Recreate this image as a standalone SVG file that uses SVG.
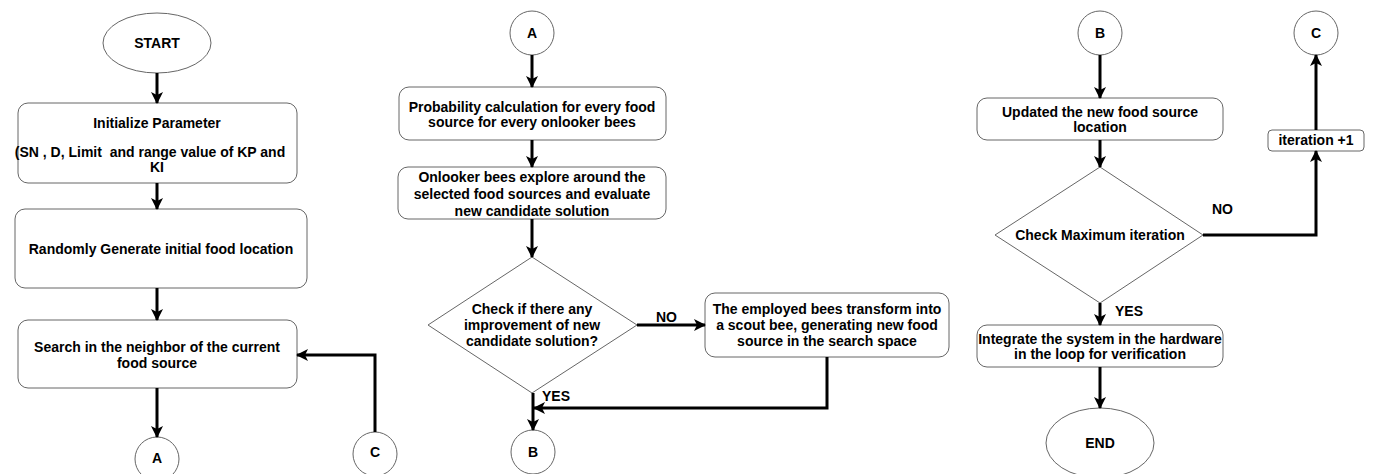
<svg xmlns="http://www.w3.org/2000/svg" width="1373" height="474" viewBox="0 0 1373 474">
<style>
.n{fill:#fff;stroke:#666;stroke-width:1}
.t{font-family:"Liberation Sans",Arial,sans-serif;font-weight:bold;font-size:14px;fill:#000;text-anchor:middle;dominant-baseline:central;white-space:pre}
.c{fill:none;stroke:#000;stroke-width:3}
.l{font-family:"Liberation Sans",Arial,sans-serif;font-weight:bold;font-size:14px;fill:#000;dominant-baseline:central}
</style>
<defs>
<marker id="ah" markerUnits="userSpaceOnUse" markerWidth="12" markerHeight="12" viewBox="0 0 12 12" refX="11" refY="6" orient="auto">
<path d="M0,0 L12,6 L0,12 L3,6 Z" fill="#000"/>
</marker>
</defs>
<rect width="1373" height="474" fill="#fff"/>

<g id="start"><ellipse class="n" cx="157" cy="43" rx="54" ry="30"/><text class="t" x="157" y="43">START</text></g>
<g id="init"><rect class="n" x="18" y="103" width="279" height="80" rx="10"/>
<text class="t" x="157" y="123">Initialize Parameter</text>
<text class="t" x="150" y="152">(SN , D, Limit  and range value of KP and</text>
<text class="t" x="157" y="167">KI</text></g>
<g id="random"><rect class="n" x="15" y="209" width="292" height="79" rx="10"/><text class="t" x="161" y="249">Randomly Generate initial food location</text></g>
<g id="search"><rect class="n" x="18" y="320" width="279" height="68" rx="10"/>
<text class="t" x="157" y="347">Search in the neighbor of the current</text>
<text class="t" x="157" y="363">food source</text></g>
<g id="a1"><circle class="n" cx="157" cy="459" r="22"/><text class="t" x="157" y="458">A</text></g>
<g id="c1"><circle class="n" cx="375" cy="454" r="22"/><text class="t" x="375" y="452">C</text></g>

<g id="a2"><circle class="n" cx="532" cy="33" r="22"/><text class="t" x="532" y="33">A</text></g>
<g id="prob"><rect class="n" x="399" y="87" width="267" height="53" rx="10"/>
<text class="t" x="532" y="107">Probability calculation for every food</text>
<text class="t" x="532" y="122">source for every onlooker bees</text></g>
<g id="onlooker"><rect class="n" x="398" y="167" width="268" height="52" rx="10"/>
<text class="t" x="532" y="177">Onlooker bees explore around the</text>
<text class="t" x="532" y="194">selected food sources and evaluate</text>
<text class="t" x="532" y="211">new candidate solution</text></g>
<g id="check1"><polygon class="n" points="532,257 637,325 532,393 428,325"/>
<text class="t" x="532" y="309">Check if there any</text>
<text class="t" x="532" y="325">improvement of new</text>
<text class="t" x="532" y="341">candidate solution?</text></g>
<g id="scout"><rect class="n" x="705" y="293" width="244" height="64" rx="10"/>
<text class="t" x="827" y="309">The employed bees transform into</text>
<text class="t" x="827" y="325">a scout bee, generating new food</text>
<text class="t" x="827" y="341">source in the search space</text></g>
<g id="b1"><circle class="n" cx="533" cy="452" r="22"/><text class="t" x="533" y="452">B</text></g>

<g id="b2"><circle class="n" cx="1100" cy="33" r="22"/><text class="t" x="1100" y="33">B</text></g>
<g id="update"><rect class="n" x="977" y="98" width="246" height="42" rx="10"/>
<text class="t" x="1100" y="112">Updated the new food source</text>
<text class="t" x="1100" y="127">location</text></g>
<g id="check2"><polygon class="n" points="1100,167 1203,235 1100,303 995,235"/>
<text class="t" x="1100" y="235">Check Maximum iteration</text></g>
<g id="iter"><rect class="n" x="1268" y="130" width="96" height="21" rx="4"/><text class="t" x="1316" y="140">iteration +1</text></g>
<g id="c2"><circle class="n" cx="1316" cy="33" r="22"/><text class="t" x="1316" y="33">C</text></g>
<g id="integrate"><rect class="n" x="977" y="325" width="246" height="42" rx="10"/>
<text class="t" x="1100" y="339">Integrate the system in the hardware</text>
<text class="t" x="1100" y="354">in the loop for verification</text></g>
<g id="end"><ellipse class="n" cx="1100" cy="443" rx="54" ry="35"/><text class="t" x="1100" y="443">END</text></g>

<g id="connectors">
<path class="c" d="M157,73 L157,103" marker-end="url(#ah)"/>
<path class="c" d="M157,183 L157,209" marker-end="url(#ah)"/>
<path class="c" d="M157,288 L157,320" marker-end="url(#ah)"/>
<path class="c" d="M157,388 L157,437" marker-end="url(#ah)"/>
<path class="c" d="M375,432 L375,355 L297,355" marker-end="url(#ah)"/>
<path class="c" d="M532,55 L532,87" marker-end="url(#ah)"/>
<path class="c" d="M532,140 L532,167" marker-end="url(#ah)"/>
<path class="c" d="M532,219 L532,257" marker-end="url(#ah)"/>
<path class="c" d="M637,325 L705,325" marker-end="url(#ah)"/>
<path class="c" d="M533,393 L533,430" marker-end="url(#ah)"/>
<path class="c" d="M827,357 L827,408 L534,408" marker-end="url(#ah)"/>
<path class="c" d="M1100,55 L1100,98" marker-end="url(#ah)"/>
<path class="c" d="M1100,140 L1100,167" marker-end="url(#ah)"/>
<path class="c" d="M1203,235 L1316,235 L1316,151" marker-end="url(#ah)"/>
<path class="c" d="M1316,130 L1316,55" marker-end="url(#ah)"/>
<path class="c" d="M1100,303 L1100,325" marker-end="url(#ah)"/>
<path class="c" d="M1100,367 L1100,408" marker-end="url(#ah)"/>
<text class="l" x="656" y="317">NO</text>
<text class="l" x="542" y="396">YES</text>
<text class="l" x="1212" y="209">NO</text>
<text class="l" x="1115" y="311">YES</text>
</g>
</svg>
